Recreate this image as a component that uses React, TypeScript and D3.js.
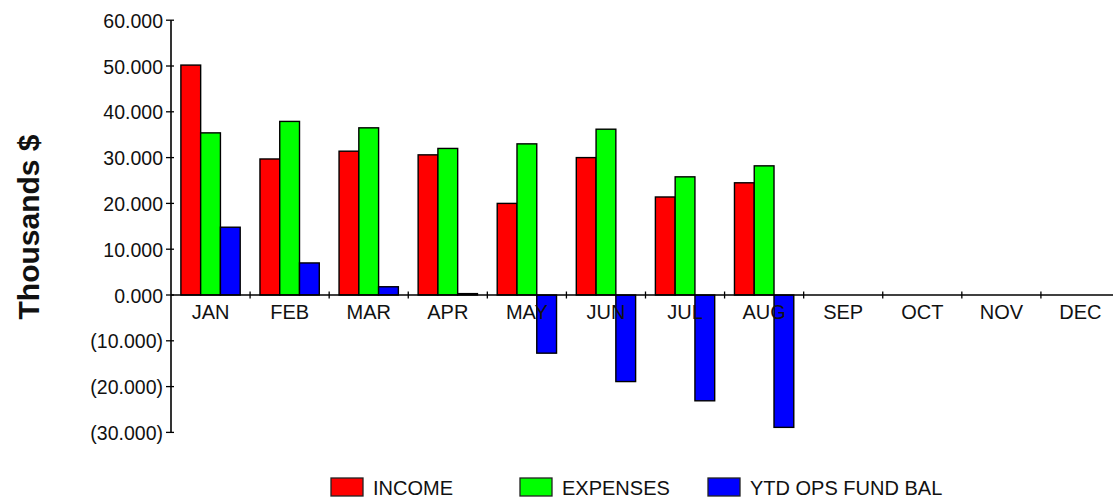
import React, { useEffect, useRef } from 'react';
import * as d3 from 'd3';

const months = ['JAN', 'FEB', 'MAR', 'APR', 'MAY', 'JUN', 'JUL', 'AUG', 'SEP', 'OCT', 'NOV', 'DEC'];
const seriesNames = ['INCOME', 'EXPENSES', 'YTD OPS FUND BAL'];
const seriesColors = ['#ff0000', '#00ff00', '#0000ff'];
const income = [50.2, 29.7, 31.4, 30.6, 20.0, 30.0, 21.4, 24.5, null, null, null, null];
const expenses = [35.4, 37.9, 36.5, 32.0, 33.0, 36.2, 25.8, 28.2, null, null, null, null];
const ytdBalance = [14.8, 7.0, 1.8, 0.3, -12.7, -18.9, -23.1, -28.9, 0, 0, 0, 0];
const yTicks = [-30, -20, -10, 0, 10, 20, 30, 40, 50, 60];

export default function App() {
  const ref = useRef<SVGSVGElement | null>(null);

  useEffect(() => {
    const svg = d3.select(ref.current);
    svg.selectAll('*').remove();

    const left = 171;
    const right = 1120;
    const top = 20.2;
    const bottom = 432.4;

    const x0 = d3.scaleBand<string>().domain(months).range([left, right]).padding(0);
    const x1 = d3.scaleBand<string>().domain(seriesNames).range([0, x0.bandwidth()]).paddingInner(0).paddingOuter(0.5);
    const y = d3.scaleLinear().domain([-30, 60]).range([bottom, top]);

    const fmt = (d: number) => (d < 0 ? `(${Math.abs(d).toFixed(3)})` : d.toFixed(3));
    const font = 'Liberation Sans, Arial, sans-serif';

    const rows = months.map((m, i) => ({
      month: m,
      values: [income[i], expenses[i], ytdBalance[i]],
    }));

    // bars
    const groups = svg.append('g')
      .selectAll('g')
      .data(rows)
      .enter()
      .append('g')
      .attr('transform', d => `translate(${x0(d.month)},0)`);

    groups.selectAll('rect')
      .data(d => d.values.map((v, k) => ({ v, k })).filter(e => e.v !== null))
      .enter()
      .append('rect')
      .attr('x', e => x1(seriesNames[e.k])!)
      .attr('width', x1.bandwidth())
      .attr('y', e => y(Math.max(0, e.v as number)))
      .attr('height', e => Math.abs(y(e.v as number) - y(0)))
      .attr('fill', e => seriesColors[e.k])
      .attr('stroke', '#000')
      .attr('stroke-width', 1.4);

    // y axis
    svg.append('line')
      .attr('x1', left).attr('x2', left)
      .attr('y1', y(60)).attr('y2', y(-30))
      .attr('stroke', '#000').attr('stroke-width', 1.6);

    yTicks.forEach(t => {
      svg.append('line')
        .attr('x1', left - 5).attr('x2', left + 3)
        .attr('y1', y(t)).attr('y2', y(t))
        .attr('stroke', '#000').attr('stroke-width', 1.3);
      svg.append('text')
        .attr('x', left - 8)
        .attr('y', y(t) + 7.5)
        .attr('text-anchor', 'end')
        .attr('font-family', font)
        .attr('font-size', 19.5)
        .attr('fill', '#111')
        .text(fmt(t));
    });

    // x axis (zero line)
    svg.append('line')
      .attr('x1', left).attr('x2', 1113)
      .attr('y1', y(0)).attr('y2', y(0))
      .attr('stroke', '#000').attr('stroke-width', 1.6);

    months.forEach((m, i) => {
      if (i > 0) {
        const xt = x0(m)!;
        svg.append('line')
          .attr('x1', xt).attr('x2', xt)
          .attr('y1', y(0) - 3.5).attr('y2', y(0) + 3.5)
          .attr('stroke', '#000').attr('stroke-width', 1.3);
      }
      svg.append('text')
        .attr('x', x0(m)! + x0.bandwidth() / 2)
        .attr('y', y(0) + 24)
        .attr('text-anchor', 'middle')
        .attr('font-family', font)
        .attr('font-size', 20)
        .attr('fill', '#111')
        .text(m);
    });

    // y title
    svg.append('text')
      .attr('transform', `translate(39,227) rotate(-90)`)
      .attr('text-anchor', 'middle')
      .attr('font-family', font)
      .attr('font-weight', 'bold')
      .attr('font-size', 30)
      .attr('fill', '#111')
      .text('Thousands $');

    // legend
    const legendX = [331, 520, 708];
    seriesNames.forEach((s, k) => {
      svg.append('rect')
        .attr('x', legendX[k]).attr('y', 478)
        .attr('width', 32).attr('height', 18)
        .attr('fill', seriesColors[k])
        .attr('stroke', '#222').attr('stroke-width', 1.3);
      svg.append('text')
        .attr('x', legendX[k] + 42)
        .attr('y', 495)
        .attr('font-family', font)
        .attr('font-size', 20)
        .attr('fill', '#111')
        .text(s);
    });
  }, []);

  return (
    <svg
      ref={ref}
      width={1113}
      height={500}
      style={{ position: 'absolute', left: 0, top: 0, background: '#fff' }}
    />
  );
}
